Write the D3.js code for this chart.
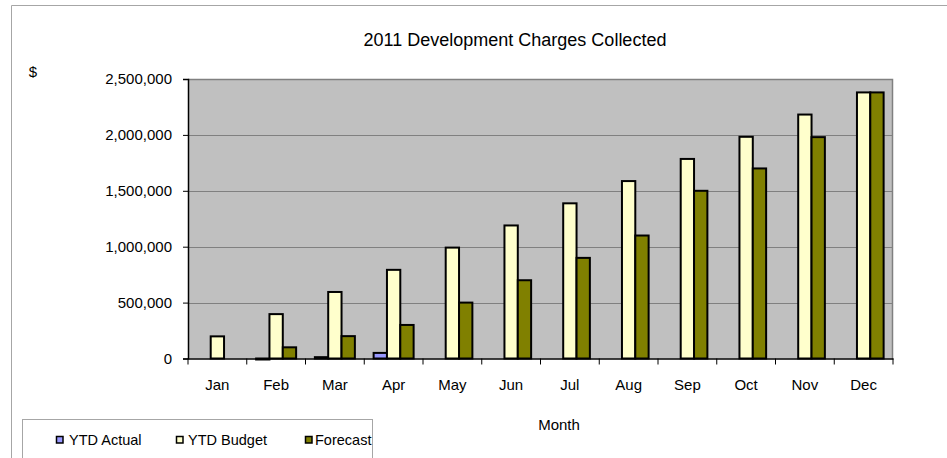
<!DOCTYPE html>
<html>
<head>
<meta charset="utf-8">
<script src="https://cdn.jsdelivr.net/npm/d3@7"></script>
<style>
  html, body { margin: 0; padding: 0; background: #fff; }
  svg text { font-family: "Liberation Sans", Arial, sans-serif; fill: #000; }
</style>
</head>
<body>
<svg id="chart" width="947" height="458"></svg>
<script>
// Monthly categories and year-to-date series (dollars)
const months = ["Jan","Feb","Mar","Apr","May","Jun","Jul","Aug","Sep","Oct","Nov","Dec"];
const seriesNames = ["YTD Actual", "YTD Budget", "Forecast"];
const ytdActual = [0, -8000, 12000, 50000, 0, 0, 0, 0, 0, 0, 0, 0];
const ytdBudget = [198000, 397000, 595000, 793000, 992000, 1190000, 1388000, 1587000, 1785000, 1983000, 2182000, 2380000];
const forecast  = [0, 100000, 200000, 300000, 500000, 700000, 900000, 1100000, 1500000, 1700000, 1980000, 2380000];
const yTicks = [0, 500000, 1000000, 1500000, 2000000, 2500000];
const colors = ["#9999FF", "#FFFFCC", "#808000"];

const svg = d3.select("#chart");

// Outer chart frame (top and left edges)
svg.append("line").attr("x1", 11.5).attr("y1", 5.5).attr("x2", 947).attr("y2", 5.5)
  .attr("stroke", "#a6a6a6").attr("stroke-width", 1);
svg.append("line").attr("x1", 11.5).attr("y1", 5.5).attr("x2", 11.5).attr("y2", 458)
  .attr("stroke", "#a6a6a6").attr("stroke-width", 1);

const plot = { left: 188, top: 79, right: 893, bottom: 358.5 };

const x = d3.scaleBand().domain(months).range([plot.left, plot.right]).paddingInner(0).paddingOuter(0);
const y = d3.scaleLinear().domain([0, 2500000]).range([plot.bottom, plot.top]);
const inner = d3.scaleBand().domain(seriesNames).range([0, 40]);
const groupOffset = (x.bandwidth() - 40) / 2;

// Plot area background
svg.append("rect")
  .attr("x", plot.left).attr("y", plot.top)
  .attr("width", plot.right - plot.left).attr("height", plot.bottom - plot.top)
  .attr("fill", "#C0C0C0");

// Horizontal gridlines
svg.append("g").selectAll("line")
  .data(yTicks.filter(d => d > 0))
  .join("line")
  .attr("x1", plot.left).attr("x2", plot.right)
  .attr("y1", d => Math.round(y(d)) + 0.5).attr("y2", d => Math.round(y(d)) + 0.5)
  .attr("stroke", "#808080").attr("stroke-width", 1);

// Plot border on top and right
svg.append("path")
  .attr("d", `M${plot.left},${plot.top + 0.5}H${plot.right - 0.5}V${plot.bottom}`)
  .attr("fill", "none").attr("stroke", "#808080").attr("stroke-width", 1.5);

// Bars
const rows = months.map((m, i) => ({ month: m, values: [ytdActual[i], ytdBudget[i], forecast[i]] }));
const groups = svg.append("g").selectAll("g")
  .data(rows)
  .join("g")
  .attr("transform", d => `translate(${x(d.month) + groupOffset},0)`);

groups.selectAll("rect")
  .data(d => d.values.map((v, k) => ({ name: seriesNames[k], value: v, color: colors[k] })).filter(e => e.value !== 0))
  .join("rect")
  .attr("x", d => inner(d.name))
  .attr("y", d => y(Math.max(0, d.value)))
  .attr("width", inner.bandwidth())
  .attr("height", d => Math.max(1, Math.abs(y(d.value) - y(0))))
  .attr("fill", d => d.color)
  .attr("stroke", "#000")
  .attr("stroke-width", 2);

// Y axis
const yAxis = d3.axisLeft(y).tickValues(yTicks).tickSize(5).tickPadding(11)
  .tickFormat(d3.format(","));
const gy = svg.append("g").attr("transform", `translate(${plot.left},0)`).call(yAxis);
gy.select(".domain").attr("stroke", "#000").attr("stroke-width", 1.5);
gy.selectAll(".tick line").attr("stroke", "#000");
gy.selectAll(".tick text").attr("font-size", "15px").attr("font-family", "Liberation Sans, Arial, sans-serif");

// X axis with ticks at category boundaries
const xAxis = d3.axisBottom(x).tickSize(0).tickPadding(21);
const gx = svg.append("g").attr("transform", `translate(0,${plot.bottom})`).call(xAxis);
gx.select(".domain").attr("stroke", "#000").attr("stroke-width", 1.5);
gx.selectAll(".tick text").attr("font-size", "15px").attr("font-family", "Liberation Sans, Arial, sans-serif");
svg.append("g").selectAll("line")
  .data(months.map(m => x(m)).concat([plot.right]))
  .join("line")
  .attr("x1", d => d).attr("x2", d => d)
  .attr("y1", plot.bottom).attr("y2", plot.bottom + 6)
  .attr("stroke", "#000").attr("stroke-width", 1);

// Titles
svg.append("text").attr("x", 515).attr("y", 46).attr("text-anchor", "middle")
  .attr("font-size", "18px").text("2011 Development Charges Collected");
svg.append("text").attr("x", 33).attr("y", 77).attr("text-anchor", "middle")
  .attr("font-size", "15px").text("$");
svg.append("text").attr("x", 559).attr("y", 430).attr("text-anchor", "middle")
  .attr("font-size", "15px").text("Month");

// Legend
const legend = svg.append("g");
legend.append("rect").attr("x", 22.5).attr("y", 419.5).attr("width", 350).attr("height", 50)
  .attr("fill", "#fff").attr("stroke", "#a6a6a6").attr("stroke-width", 1);
const legendX = [56, 176, 305];
const legendTextX = [69, 188, 315];
const items = legend.selectAll("g.item")
  .data(seriesNames.map((n, k) => ({ name: n, color: colors[k], x: legendX[k], tx: legendTextX[k] })))
  .join("g").attr("class", "item");
items.append("rect").attr("x", d => d.x + 0.5).attr("y", 436.5).attr("width", 6.5).attr("height", 6.5)
  .attr("fill", d => d.color).attr("stroke", "#000").attr("stroke-width", 1.5);
items.append("text").attr("x", d => d.tx).attr("y", 444.5).attr("font-size", "14.5px").text(d => d.name);
</script>
</body>
</html>
